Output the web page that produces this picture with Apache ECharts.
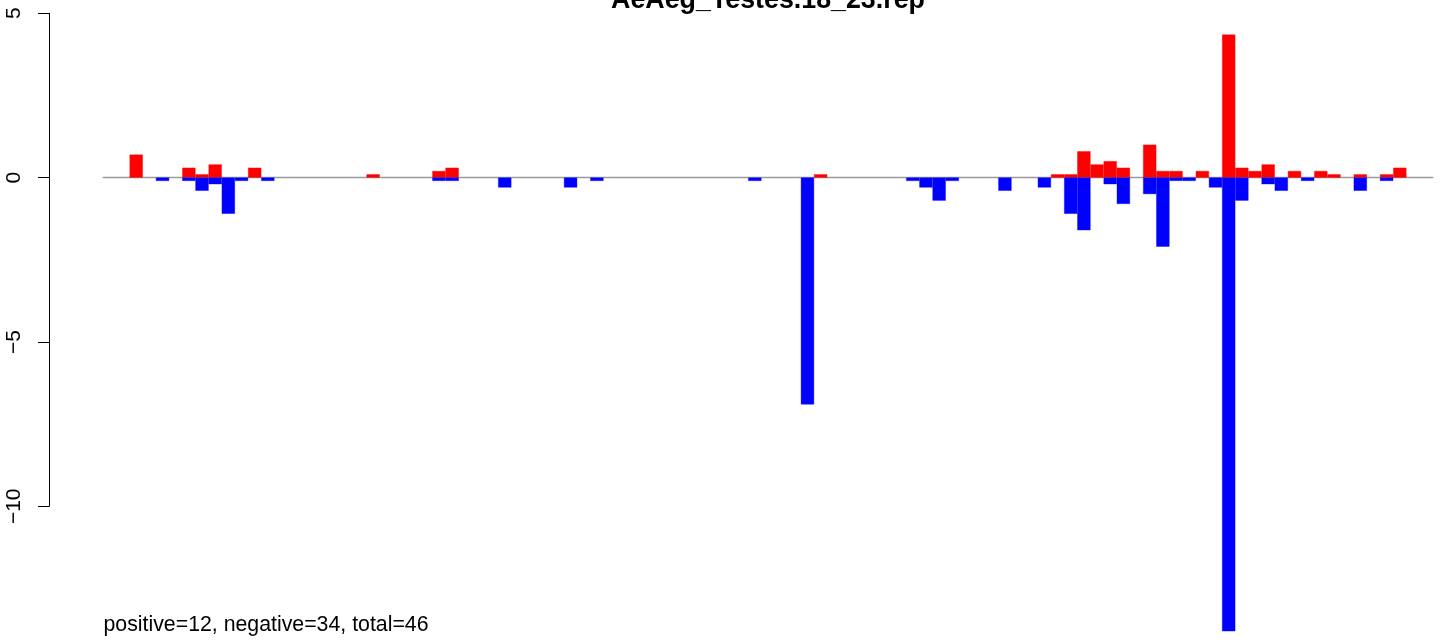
<!DOCTYPE html>
<html><head><meta charset="utf-8">
<script src="https://cdn.jsdelivr.net/npm/echarts@6.0.0/dist/echarts.min.js"></script>
<style>html,body{margin:0;padding:0;background:#fff}#c{width:1444px;height:643px}</style>
</head><body><div id="c"></div>
<script>
const titleText = 'AeAeg_Testes.18_23.rep';
const footText = 'positive=12, negative=34, total=46';
const yTicks = [5, 0, -5, -10];

const positive = [
  0, 0, 0.7, 0, 0, 0, 0.3, 0.1, 0.4, 0,
  0, 0.3, 0, 0, 0, 0, 0, 0, 0, 0,
  0.1, 0, 0, 0, 0, 0.2, 0.3, 0, 0, 0,
  0, 0, 0, 0, 0, 0, 0, 0, 0, 0,
  0, 0, 0, 0, 0, 0, 0, 0, 0, 0,
  0, 0, 0, 0, 0.1, 0, 0, 0, 0, 0,
  0, 0, 0, 0, 0, 0, 0, 0, 0, 0,
  0, 0, 0.1, 0.1, 0.8, 0.4, 0.5, 0.3, 0, 1.0,
  0.2, 0.2, 0, 0.2, 0, 4.35, 0.3, 0.2, 0.4, 0,
  0.2, 0, 0.2, 0.1, 0, 0.1, 0, 0.1, 0.3, 0,
  0
];
const negative = [
  0, 0, 0, 0, -0.1, 0, -0.1, -0.4, -0.2, -1.1,
  -0.1, 0, -0.1, 0, 0, 0, 0, 0, 0, 0,
  0, 0, 0, 0, 0, -0.1, -0.1, 0, 0, 0,
  -0.3, 0, 0, 0, 0, -0.3, 0, -0.1, 0, 0,
  0, 0, 0, 0, 0, 0, 0, 0, 0, -0.1,
  0, 0, 0, -6.9, 0, 0, 0, 0, 0, 0,
  0, -0.1, -0.3, -0.7, -0.1, 0, 0, 0, -0.4, 0,
  0, -0.3, 0, -1.1, -1.6, 0, -0.2, -0.8, 0, -0.5,
  -2.1, -0.1, -0.1, 0, -0.3, -13.8, -0.7, 0, -0.2, -0.4,
  0, -0.1, 0, 0, 0, -0.4, 0, -0.1, 0, 0,
  0
];
const categories = positive.map((_, i) => String(i + 1));

const FONT = '"Liberation Sans", Arial, Helvetica, sans-serif';
const chart = echarts.init(document.getElementById('c'), null, {renderer: 'canvas'});
const nz = v => (v === 0 ? null : v);

const option = {
  animation: false,
  backgroundColor: '#ffffff',
  grid: [
    {left: 49, width: 20, top: 13.25, height: 493.05},
    {left: 103.3, right: 11.3, top: 13.25, bottom: 5.2}
  ],
  xAxis: [
    {gridIndex: 0, type: 'value', show: false},
    {gridIndex: 1, type: 'category', data: categories, boundaryGap: true,
     axisLine: {show: true, onZero: true, lineStyle: {color: '#9a9a9a', width: 1.3}},
     axisTick: {show: false}, axisLabel: {show: false}, splitLine: {show: false}}
  ],
  yAxis: [
    {gridIndex: 0, type: 'value', min: yTicks[yTicks.length - 1], max: yTicks[0], interval: 5,
     axisLine: {show: true, lineStyle: {color: '#000', width: 1}},
     axisTick: {show: true, length: 11, lineStyle: {color: '#000', width: 1}},
     axisLabel: {show: true, rotate: 90, margin: 24, fontSize: 21, color: '#000', fontFamily: FONT,
       formatter: v => String(v).replace('-', '\u2212')},
     splitLine: {show: false}},
    {gridIndex: 1, type: 'value', min: -14, max: 5, show: false, splitLine: {show: false}}
  ],
  series: [
    {name: 'positive', type: 'bar', xAxisIndex: 1, yAxisIndex: 1, data: positive.map(nz),
     barCategoryGap: '0%', barGap: '-100%', z: 3,
     itemStyle: {color: '#ff0000', borderColor: '#ff0000', borderWidth: 0.4}},
    {name: 'negative', type: 'bar', xAxisIndex: 1, yAxisIndex: 1, data: negative.map(nz),
     barCategoryGap: '0%', barGap: '-100%', z: 3,
     itemStyle: {color: '#0000ff', borderColor: '#0000ff', borderWidth: 0.4}}
  ],
  graphic: [
    {type: 'text', x: 768, y: 0.5, silent: true,
     style: {text: titleText, font: 'bold 26.8px ' + FONT, fill: '#000',
             align: 'center', textAlign: 'center', verticalAlign: 'middle', textVerticalAlign: 'middle'}},
    {type: 'text', x: 103.5, y: 625, silent: true,
     style: {text: footText, font: '21.3px ' + FONT, fill: '#000',
             align: 'left', textAlign: 'left', verticalAlign: 'middle', textVerticalAlign: 'middle'}}
  ]
};
chart.setOption(option);
</script>
</body></html>
